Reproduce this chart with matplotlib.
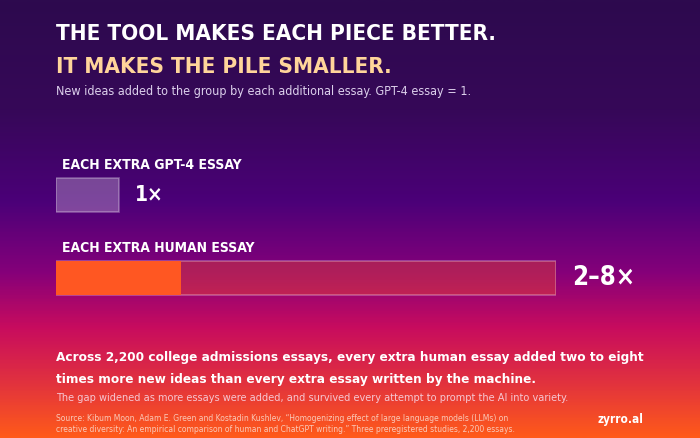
import numpy as np
import matplotlib.pyplot as plt
from matplotlib.colors import LinearSegmentedColormap

W, H = 700, 438

# data
CATEGORIES = ["EACH EXTRA GPT-4 ESSAY", "EACH EXTRA HUMAN ESSAY"]
LOW = [1, 2]       # solid part of the bar
HIGH = [1, 8]      # top of the range
VALUE_LABELS = ["1×", "2–8×"]

ORANGE = "#FF5722"
COND = dict(family="DejaVu Sans", fontstretch="condensed")


def px(x, y):
    # pixel coords (from top-left) to figure fraction
    return x / W, 1 - y / H


fig = plt.figure(figsize=(W / 100, H / 100), dpi=100)

# gradient background
bg = fig.add_axes([0, 0, 1, 1])
cmap = LinearSegmentedColormap.from_list("bg", [
    (0.0, "#2D0A4E"),
    (0.25, "#360858"),
    (0.46, "#4B0078"),
    (0.62, "#84007A"),
    (0.75, "#C80C5E"),
    (0.87, "#E03040"),
    (1.0, "#FF5A1A"),
])
grad = np.linspace(0, 1, 400).reshape(-1, 1)
bg.imshow(grad, aspect="auto", cmap=cmap, extent=[0, 1, 1, 0])
bg.axis("off")

# bars
ax = fig.add_axes([56 / W, 1 - 320 / H, 500 / W, 170 / H])
ax.patch.set_alpha(0)
ypos = np.arange(len(CATEGORIES))
bh = 34 / 83

# GPT-4 bar
ax.barh(ypos[0], LOW[0], height=bh, left=0, color=(1, 1, 1, 0.28),
        edgecolor=(1, 1, 1, 0.3), linewidth=1.2)
# human bar: solid to low, translucent range to high
ax.barh(ypos[1], HIGH[1] - LOW[1], height=bh, left=LOW[1],
        color=ORANGE, alpha=0.35, linewidth=0)
ax.barh(ypos[1], HIGH[1], height=bh, left=0, color="none",
        edgecolor=(1, 1, 1, 0.3), linewidth=1.2)
ax.barh(ypos[1], LOW[1], height=bh, left=0, color=ORANGE, linewidth=0)

for i, cat in enumerate(CATEGORIES):
    ax.text(0.1, ypos[i] - bh / 2 - 0.07, cat, color="white", fontsize=10,
            fontweight="bold", va="bottom", ha="left", **COND)
    ax.text(HIGH[i] + 0.26, ypos[i], VALUE_LABELS[i], color="white",
            fontsize=15 if i == 0 else 18.5, fontweight="bold", va="center",
            ha="left", **COND)

ax.set_xlim(0, 8)
ax.set_ylim(1 + 42 / 83, -45 / 83)
ax.axis("off")

# titles
fig.text(*px(56, 40), "THE TOOL MAKES EACH PIECE BETTER.", color="white",
         fontsize=16.1, fontweight="bold", va="baseline", **COND)
fig.text(*px(56, 73), "IT MAKES THE PILE SMALLER.", color="#FFD59A",
         fontsize=16.1, fontweight="bold", va="baseline", **COND)
fig.text(*px(56, 95), "New ideas added to the group by each additional essay. GPT-4 essay = 1.",
         color="#DCD0EC", fontsize=9, va="baseline", **COND)

# bottom notes
fig.text(*px(56, 361), "Across 2,200 college admissions essays, every extra human essay added two to eight",
         color="white", fontsize=9.7, fontweight="bold", va="baseline", **COND)
fig.text(*px(56, 383), "times more new ideas than every extra essay written by the machine.",
         color="white", fontsize=9.7, fontweight="bold", va="baseline", **COND)
fig.text(*px(56, 401), "The gap widened as more essays were added, and survived every attempt to prompt the AI into variety.",
         color="#F6C6D2", fontsize=7.8, va="baseline", **COND)
fig.text(*px(56, 421), "Source: Kibum Moon, Adam E. Green and Kostadin Kushlev, \u201cHomogenizing effect of large language models (LLMs) on",
         color="#FAC8B8", fontsize=6.1, va="baseline", **COND)
fig.text(*px(56, 432), "creative diversity: An empirical comparison of human and ChatGPT writing.\u201d Three preregistered studies, 2,200 essays.",
         color="#FAC8B8", fontsize=6.1, va="baseline", **COND)
fig.text(*px(643, 423), "zyrro.al", color="white", fontsize=8.5,
         fontweight="bold", ha="right", va="baseline", **COND)

fig.savefig("out.png", dpi=100)
